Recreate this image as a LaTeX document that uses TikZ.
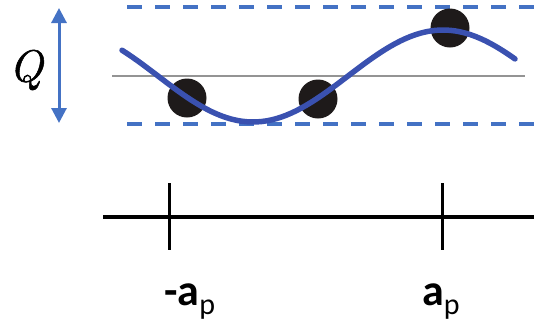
\documentclass[tikz,border=0pt]{standalone}
\usepackage{fontspec}
\setmainfont{Carlito}
\newfontfamily\qfont{Latin Modern Roman}[ItalicFeatures={FakeBold=1.2}]
\usetikzlibrary{arrows.meta}
\definecolor{dashblue}{HTML}{4472C4}
\definecolor{curveblue}{HTML}{3A51B0}
\definecolor{ballblack}{HTML}{1E1A1A}
\tikzset{
  bound/.style={draw=dashblue, line width=4pt, dash pattern=on 15pt off 13pt},
  midline/.style={draw=black!42, line width=2.2pt},
  wave/.style={draw=curveblue, line width=5.5pt, line cap=round},
  ball/.style={circle, fill=ballblack, minimum size=39pt, inner sep=0pt},
  axisline/.style={draw=black, line width=3.6pt},
  tickline/.style={draw=black, line width=3pt},
  qarrow/.style={draw=dashblue, line width=3pt, {Triangle[length=15pt,width=15pt]}-{Triangle[length=15pt,width=15pt]}},
  lab/.style={inner sep=0pt, anchor=base west, font=\fontsize{44}{44}\selectfont\bfseries}
}
\newcommand{\subp}{\raisebox{-9pt}{\fontsize{30}{30}\selectfont\mdseries p}}
\begin{document}
\begin{tikzpicture}[x=1pt,y=-1pt]
\useasboundingbox (0,0) rectangle (547,333);
% bounds
\coordinate (tl) at (127,7);
\coordinate (tr) at (536,7);
\coordinate (bl) at (127,124);
\coordinate (br) at (536,124);
\draw[bound] (tl) -- (tr);
\draw[bound] (bl) -- (br);
% mid line
\coordinate (ml) at (112,76);
\coordinate (mr) at (525,76);
\draw[midline] (ml) -- (mr);
% balls
\node[ball] (b1) at (187,98) {};
\node[ball] (b2) at (318,99) {};
\node[ball] (b3) at (450,28) {};
% wave
\draw[wave] plot[domain=122:515, samples=80] (\x, {76+46*cos((\x-253)/190*180)});
% Q arrow
\coordinate (qt) at (59,8);
\coordinate (qb) at (59,123);
\draw[qarrow] (qt) -- (qb);
\node[inner sep=0pt, font=\qfont\itshape\fontsize{45}{45}\selectfont] (q) at (26,70) {Q};
% axis
\coordinate (al) at (103,217);
\coordinate (ar) at (534,217);
\draw[axisline] (al) -- (ar);
\coordinate (t1a) at (169,183);
\coordinate (t1b) at (169,250);
\coordinate (t2a) at (442,183);
\coordinate (t2b) at (442,250);
\draw[tickline] (t1a) -- (t1b);
\draw[tickline] (t2a) -- (t2b);
\node[lab] (l1) at (164,305) {-a\subp};
\node[lab] (l2) at (422,305) {a\subp};
\end{tikzpicture}
\end{document}
